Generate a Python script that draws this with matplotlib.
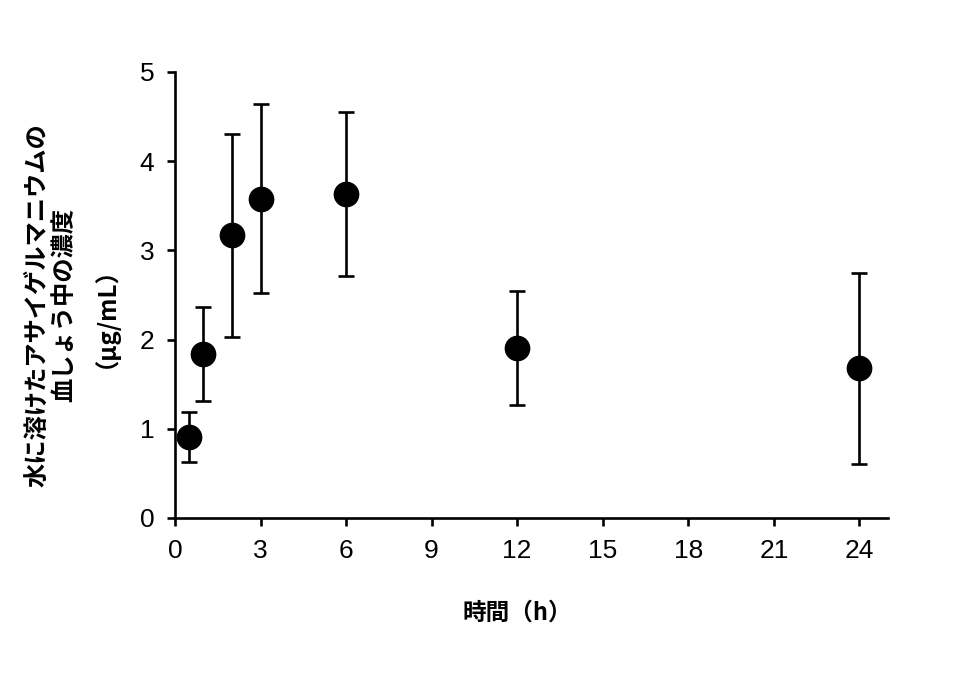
import numpy as np
import matplotlib
matplotlib.use("Agg")
import matplotlib.pyplot as plt

plt.rcParams['font.family'] = ['Noto Sans CJK JP', 'DejaVu Sans']

# time points (h), mean concentration and SD
hours = [0.5, 1, 2, 3, 6, 12, 24]
conc = [0.91, 1.84, 3.17, 3.58, 3.63, 1.91, 1.68]
sd = [0.28, 0.53, 1.14, 1.06, 0.92, 0.64, 1.07]

xticks = [0, 3, 6, 9, 12, 15, 18, 21, 24]
yticks = [0, 1, 2, 3, 4, 5]

fig = plt.figure(figsize=(9.63, 6.83), dpi=100)
ax = fig.add_axes([0.1817, 0.2416, 0.7403, 0.653])

ax.errorbar(hours, conc, yerr=sd, fmt='o', color='black', markersize=17.5,
            elinewidth=1.9, capsize=6, capthick=1.9)

ax.set_xlim(0, 25)
ax.set_ylim(0, 5)
ax.set_xticks(xticks)
ax.set_yticks(yticks)
for lab in ax.get_xticklabels() + ax.get_yticklabels():
    lab.set_family(['Liberation Sans', 'DejaVu Sans'])
ax.tick_params(direction='out', length=6, width=1.9, labelsize=19, pad=9)
ax.spines['top'].set_visible(False)
ax.spines['right'].set_visible(False)
ax.spines['left'].set_linewidth(1.9)
ax.spines['bottom'].set_linewidth(1.9)

fig.text(0.068, 1 - 305 / 683, "水に溶けたアサイゲルマニウムの\n血しょう中の濃度\n（µg/mL）",
         rotation=90, ha='center', va='center', fontsize=17.5, fontweight='bold',
         linespacing=1.15, multialignment='center')
fig.text(517 / 963, 1 - 613 / 683, "時間（h）", ha='center', va='center',
         fontsize=17, fontweight='bold')

fig.savefig("out.png", dpi=100)
